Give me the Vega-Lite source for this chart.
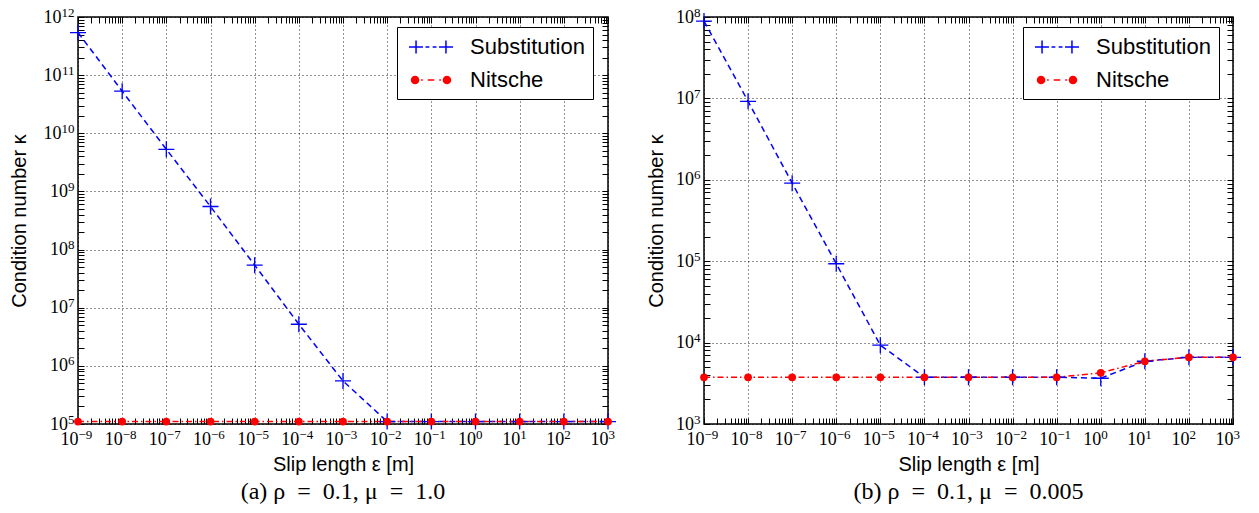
{
  "$schema": "https://vega.github.io/schema/vega-lite/v6.json",
  "background": "white",
  "padding": {"left": 8, "top": 5, "right": 5, "bottom": 0},
  "bounds": "flush",
  "spacing": 96,
  "datasets": {
    "a": [
      {"x": 1e-9, "series": "Substitution", "k": 5.4e11},
      {"x": 1e-8, "series": "Substitution", "k": 5.3e10},
      {"x": 1e-7, "series": "Substitution", "k": 5.3e9},
      {"x": 1e-6, "series": "Substitution", "k": 5.5e8},
      {"x": 1e-5, "series": "Substitution", "k": 5.4e7},
      {"x": 1e-4, "series": "Substitution", "k": 5.2e6},
      {"x": 1e-3, "series": "Substitution", "k": 5.5e5},
      {"x": 1e-2, "series": "Substitution", "k": 1.1e5},
      {"x": 1e-1, "series": "Substitution", "k": 1.1e5},
      {"x": 1e0, "series": "Substitution", "k": 1.1e5},
      {"x": 1e1, "series": "Substitution", "k": 1.1e5},
      {"x": 1e2, "series": "Substitution", "k": 1.1e5},
      {"x": 1e3, "series": "Substitution", "k": 1.1e5},
      {"x": 1e-9, "series": "Nitsche", "k": 1.1e5},
      {"x": 1e-8, "series": "Nitsche", "k": 1.1e5},
      {"x": 1e-7, "series": "Nitsche", "k": 1.1e5},
      {"x": 1e-6, "series": "Nitsche", "k": 1.1e5},
      {"x": 1e-5, "series": "Nitsche", "k": 1.1e5},
      {"x": 1e-4, "series": "Nitsche", "k": 1.1e5},
      {"x": 1e-3, "series": "Nitsche", "k": 1.1e5},
      {"x": 1e-2, "series": "Nitsche", "k": 1.1e5},
      {"x": 1e-1, "series": "Nitsche", "k": 1.1e5},
      {"x": 1e0, "series": "Nitsche", "k": 1.1e5},
      {"x": 1e1, "series": "Nitsche", "k": 1.1e5},
      {"x": 1e2, "series": "Nitsche", "k": 1.1e5},
      {"x": 1e3, "series": "Nitsche", "k": 1.1e5}
    ],
    "b": [
      {"x": 1e-9, "series": "Substitution", "k": 8.9e7},
      {"x": 1e-8, "series": "Substitution", "k": 9.2e6},
      {"x": 1e-7, "series": "Substitution", "k": 9.1e5},
      {"x": 1e-6, "series": "Substitution", "k": 9.3e4},
      {"x": 1e-5, "series": "Substitution", "k": 9.3e3},
      {"x": 1e-4, "series": "Substitution", "k": 3.75e3},
      {"x": 1e-3, "series": "Substitution", "k": 3.75e3},
      {"x": 1e-2, "series": "Substitution", "k": 3.75e3},
      {"x": 1e-1, "series": "Substitution", "k": 3.75e3},
      {"x": 1e0, "series": "Substitution", "k": 3.65e3},
      {"x": 1e1, "series": "Substitution", "k": 5.9e3},
      {"x": 1e2, "series": "Substitution", "k": 6.6e3},
      {"x": 1e3, "series": "Substitution", "k": 6.6e3},
      {"x": 1e-9, "series": "Nitsche", "k": 3.75e3},
      {"x": 1e-8, "series": "Nitsche", "k": 3.75e3},
      {"x": 1e-7, "series": "Nitsche", "k": 3.75e3},
      {"x": 1e-6, "series": "Nitsche", "k": 3.75e3},
      {"x": 1e-5, "series": "Nitsche", "k": 3.75e3},
      {"x": 1e-4, "series": "Nitsche", "k": 3.75e3},
      {"x": 1e-3, "series": "Nitsche", "k": 3.75e3},
      {"x": 1e-2, "series": "Nitsche", "k": 3.75e3},
      {"x": 1e-1, "series": "Nitsche", "k": 3.75e3},
      {"x": 1e0, "series": "Nitsche", "k": 4.25e3},
      {"x": 1e1, "series": "Nitsche", "k": 5.9e3},
      {"x": 1e2, "series": "Nitsche", "k": 6.6e3},
      {"x": 1e3, "series": "Nitsche", "k": 6.6e3}
    ]
  },
  "resolve": {"scale": {"color": "independent"}, "legend": {"color": "independent"}},
  "hconcat": [
    {
      "width": 530,
      "height": 407,
      "data": {"name": "a"},
      "title": {"text": "(a) ρ\u2002=\u20020.1, μ\u2002=\u20021.0", "orient": "bottom", "anchor": "middle", "frame": "group", "font": "Liberation Serif", "fontSize": 24, "fontWeight": "normal", "color": "black", "offset": 6},
      "resolve": {"axis": {"x": "independent", "y": "independent"}},
      "layer": [
        {
          "transform": [{"filter": "datum.series === 'Substitution'"}],
          "mark": {"type": "line", "strokeDash": [6, 4], "strokeWidth": 1.5},
          "encoding": {
            "x": {"field": "x", "type": "quantitative", "scale": {"type": "log", "domain": [1e-9, 1e3], "nice": false},
              "axis": {"orient": "bottom", "title": "Slip length ε [m]", "values": [1e-9,2e-9,3e-9,4e-9,5e-9,6e-9,7e-9,8e-9,9e-9,1e-8,2e-8,3e-8,4e-8,5e-8,6e-8,7e-8,8e-8,9e-8,1e-7,2e-7,3e-7,4e-7,5e-7,6e-7,7e-7,8e-7,9e-7,1e-6,2e-6,3e-6,4e-6,5e-6,6e-6,7e-6,8e-6,9e-6,1e-5,2e-5,3e-5,4e-5,5e-5,6e-5,7e-5,8e-5,9e-5,1e-4,2e-4,3e-4,4e-4,5e-4,6e-4,7e-4,8e-4,9e-4,1e-3,2e-3,3e-3,4e-3,5e-3,6e-3,7e-3,8e-3,9e-3,1e-2,2e-2,3e-2,4e-2,5e-2,6e-2,7e-2,8e-2,9e-2,1e-1,2e-1,3e-1,4e-1,5e-1,6e-1,7e-1,8e-1,9e-1,1,2,3,4,5,6,7,8,9,10,20,30,40,50,60,70,80,90,100,200,300,400,500,600,700,800,900,1000],
                "labelExpr": "abs(log(datum.value)/LN10-round(log(datum.value)/LN10))<0.001 ? '10' : ''",
                "labelAlign": "right", "labelBaseline": "middle", "labelPadding": 21, "labelFontSize": 18, "titlePadding": 6,
                "gridOpacity": {"condition": {"test": "abs(log(datum.value)/LN10-round(log(datum.value)/LN10))<0.001", "value": 0.85}, "value": 0},
                "encode": {"ticks": {"update": {"y2": {"signal": "abs(log(datum.value)/LN10-round(log(datum.value)/LN10))<0.001 ? -6 : -3"}}}}
              }},
            "y": {"field": "k", "type": "quantitative", "scale": {"type": "log", "domain": [1e5, 1e12], "nice": false},
              "axis": {"orient": "left", "title": "Condition number κ", "values": [1e5,2e5,3e5,4e5,5e5,6e5,7e5,8e5,9e5,1e6,2e6,3e6,4e6,5e6,6e6,7e6,8e6,9e6,1e7,2e7,3e7,4e7,5e7,6e7,7e7,8e7,9e7,1e8,2e8,3e8,4e8,5e8,6e8,7e8,8e8,9e8,1e9,2e9,3e9,4e9,5e9,6e9,7e9,8e9,9e9,1e10,2e10,3e10,4e10,5e10,6e10,7e10,8e10,9e10,1e11,2e11,3e11,4e11,5e11,6e11,7e11,8e11,9e11,1e12],
                "labelExpr": "abs(log(datum.value)/LN10-round(log(datum.value)/LN10))<0.001 ? '10' : ''",
                "labelAlign": "right", "labelBaseline": "middle", "labelFontSize": 18, "titlePadding": 14,
                "labelPadding": {"condition": {"test": "round(log(datum.value)/LN10) >= 10", "value": 23}, "value": 16.5},
                "gridOpacity": {"condition": {"test": "abs(log(datum.value)/LN10-round(log(datum.value)/LN10))<0.001", "value": 0.85}, "value": 0},
                "encode": {
                  "ticks": {"update": {"x2": {"signal": "abs(log(datum.value)/LN10-round(log(datum.value)/LN10))<0.001 ? 6 : 3"}}}
                }
              }},
            "color": {"field": "series", "type": "nominal", "scale": {"domain": ["Substitution", "Nitsche"], "range": ["#0000ff", "#ff0000"]},
              "legend": {"orient": "none", "legendX": 319, "legendY": 10, "title": null, "strokeColor": "black", "fillColor": "white", "padding": 8, "cornerRadius": 0, "labelFont": "Liberation Sans", "labelFontSize": 22, "labelColor": "black", "symbolSize": 484, "symbolOffset": 14, "labelOffset": 27, "rowPadding": 10, "symbolStrokeWidth": 1.5,
                "encode": {"symbols": {"update": {
                  "shape": {"signal": "datum.value === 'Substitution' ? 'M-2,0H-0.73M-1.36,-0.6V0.6M-0.5,0H-0.15M0.15,0H0.5M0.73,0H2M1.36,-0.6V0.6' : 'M-1.77,0A0.32,0.32 0 1,1 -1.13,0A0.32,0.32 0 1,1 -1.77,0ZM1.13,0A0.32,0.32 0 1,1 1.77,0A0.32,0.32 0 1,1 1.13,0ZM-0.9,0H-0.75M-0.3,0H0.3M0.75,0H0.9'"},
                  "fill": {"signal": "datum.value === 'Substitution' ? 'transparent' : '#ff0000'"},
                  "stroke": {"signal": "datum.value === 'Substitution' ? '#0000ff' : '#ff0000'"},
                  "strokeDash": {"value": []},
                  "opacity": {"value": 1}
                }}}}}
          }
        },
        {
          "transform": [{"filter": "datum.series === 'Nitsche'"}],
          "mark": {"type": "line", "strokeDash": [6, 3, 1.5, 3], "strokeWidth": 1.5},
          "encoding": {
            "x": {"field": "x", "type": "quantitative", "scale": {"type": "log", "domain": [1e-9, 1e3], "nice": false},
              "axis": {"orient": "top", "title": null, "labels": false, "grid": false, "values": [1e-9,2e-9,3e-9,4e-9,5e-9,6e-9,7e-9,8e-9,9e-9,1e-8,2e-8,3e-8,4e-8,5e-8,6e-8,7e-8,8e-8,9e-8,1e-7,2e-7,3e-7,4e-7,5e-7,6e-7,7e-7,8e-7,9e-7,1e-6,2e-6,3e-6,4e-6,5e-6,6e-6,7e-6,8e-6,9e-6,1e-5,2e-5,3e-5,4e-5,5e-5,6e-5,7e-5,8e-5,9e-5,1e-4,2e-4,3e-4,4e-4,5e-4,6e-4,7e-4,8e-4,9e-4,1e-3,2e-3,3e-3,4e-3,5e-3,6e-3,7e-3,8e-3,9e-3,1e-2,2e-2,3e-2,4e-2,5e-2,6e-2,7e-2,8e-2,9e-2,1e-1,2e-1,3e-1,4e-1,5e-1,6e-1,7e-1,8e-1,9e-1,1,2,3,4,5,6,7,8,9,10,20,30,40,50,60,70,80,90,100,200,300,400,500,600,700,800,900,1000],
                "encode": {"ticks": {"update": {"y2": {"signal": "abs(log(datum.value)/LN10-round(log(datum.value)/LN10))<0.001 ? 6 : 3"}}}}
              }},
            "y": {"field": "k", "type": "quantitative", "scale": {"type": "log", "domain": [1e5, 1e12], "nice": false},
              "axis": {"orient": "right", "title": null, "labels": false, "grid": false, "values": [1e5,2e5,3e5,4e5,5e5,6e5,7e5,8e5,9e5,1e6,2e6,3e6,4e6,5e6,6e6,7e6,8e6,9e6,1e7,2e7,3e7,4e7,5e7,6e7,7e7,8e7,9e7,1e8,2e8,3e8,4e8,5e8,6e8,7e8,8e8,9e8,1e9,2e9,3e9,4e9,5e9,6e9,7e9,8e9,9e9,1e10,2e10,3e10,4e10,5e10,6e10,7e10,8e10,9e10,1e11,2e11,3e11,4e11,5e11,6e11,7e11,8e11,9e11,1e12],
                "encode": {"ticks": {"update": {"x2": {"signal": "abs(log(datum.value)/LN10-round(log(datum.value)/LN10))<0.001 ? -6 : -3"}}}}
              }},
            "color": {"field": "series", "type": "nominal", "scale": {"domain": ["Substitution", "Nitsche"], "range": ["#0000ff", "#ff0000"]}}
          }
        },
        {
          "transform": [{"filter": "datum.series === 'Substitution'"}],
          "mark": {"type": "point", "shape": "M-1,0H1M0,-1V1", "filled": false, "size": 256, "color": "#0000ff", "strokeWidth": 1.3, "opacity": 1},
          "encoding": {
            "x": {"field": "x", "type": "quantitative",
              "axis": {"orient": "bottom", "title": null, "grid": false, "tickOpacity": 0, "values": [1e-9,1e-8,1e-7,1e-6,1e-5,1e-4,1e-3,1e-2,1e-1,1,10,100,1000],
                "labelExpr": "(round(log(datum.value)/LN10) < 0 ? '−' : '') + abs(round(log(datum.value)/LN10))",
                "labelAlign": "left", "labelBaseline": "middle", "labelPadding": 16, "labelFontSize": 13}},
            "y": {"field": "k", "type": "quantitative",
              "axis": {"orient": "left", "title": null, "grid": false, "tickOpacity": 0, "values": [1e5,1e6,1e7,1e8,1e9,1e10,1e11,1e12],
                "labelExpr": "(round(log(datum.value)/LN10) < 0 ? '−' : '') + abs(round(log(datum.value)/LN10))",
                "labelAlign": "right", "labelBaseline": "middle", "labelPadding": 10, "labelOffset": -5, "labelFontSize": 13}}
          }
        },
        {
          "transform": [{"filter": "datum.series === 'Nitsche'"}],
          "mark": {"type": "point", "shape": "circle", "filled": true, "size": 60, "color": "#ff0000", "opacity": 1},
          "encoding": {
            "x": {"field": "x", "type": "quantitative", "axis": null},
            "y": {"field": "k", "type": "quantitative", "axis": null}
          }
        }
      ]
    },
    {
      "width": 529,
      "height": 407,
      "data": {"name": "b"},
      "title": {"text": "(b) ρ\u2002=\u20020.1, μ\u2002=\u20020.005", "orient": "bottom", "anchor": "middle", "frame": "group", "font": "Liberation Serif", "fontSize": 24, "fontWeight": "normal", "color": "black", "offset": 6},
      "resolve": {"axis": {"x": "independent", "y": "independent"}},
      "layer": [
        {
          "transform": [{"filter": "datum.series === 'Substitution'"}],
          "mark": {"type": "line", "strokeDash": [6, 4], "strokeWidth": 1.5},
          "encoding": {
            "x": {"field": "x", "type": "quantitative", "scale": {"type": "log", "domain": [1e-9, 1e3], "nice": false},
              "axis": {"orient": "bottom", "title": "Slip length ε [m]", "values": [1e-9,2e-9,3e-9,4e-9,5e-9,6e-9,7e-9,8e-9,9e-9,1e-8,2e-8,3e-8,4e-8,5e-8,6e-8,7e-8,8e-8,9e-8,1e-7,2e-7,3e-7,4e-7,5e-7,6e-7,7e-7,8e-7,9e-7,1e-6,2e-6,3e-6,4e-6,5e-6,6e-6,7e-6,8e-6,9e-6,1e-5,2e-5,3e-5,4e-5,5e-5,6e-5,7e-5,8e-5,9e-5,1e-4,2e-4,3e-4,4e-4,5e-4,6e-4,7e-4,8e-4,9e-4,1e-3,2e-3,3e-3,4e-3,5e-3,6e-3,7e-3,8e-3,9e-3,1e-2,2e-2,3e-2,4e-2,5e-2,6e-2,7e-2,8e-2,9e-2,1e-1,2e-1,3e-1,4e-1,5e-1,6e-1,7e-1,8e-1,9e-1,1,2,3,4,5,6,7,8,9,10,20,30,40,50,60,70,80,90,100,200,300,400,500,600,700,800,900,1000],
                "labelExpr": "abs(log(datum.value)/LN10-round(log(datum.value)/LN10))<0.001 ? '10' : ''",
                "labelAlign": "right", "labelBaseline": "middle", "labelPadding": 21, "labelFontSize": 18, "titlePadding": 6,
                "gridOpacity": {"condition": {"test": "abs(log(datum.value)/LN10-round(log(datum.value)/LN10))<0.001", "value": 0.85}, "value": 0},
                "encode": {"ticks": {"update": {"y2": {"signal": "abs(log(datum.value)/LN10-round(log(datum.value)/LN10))<0.001 ? -6 : -3"}}}}
              }},
            "y": {"field": "k", "type": "quantitative", "scale": {"type": "log", "domain": [1e3, 1e8], "nice": false},
              "axis": {"orient": "left", "title": "Condition number κ", "values": [1e3,2e3,3e3,4e3,5e3,6e3,7e3,8e3,9e3,1e4,2e4,3e4,4e4,5e4,6e4,7e4,8e4,9e4,1e5,2e5,3e5,4e5,5e5,6e5,7e5,8e5,9e5,1e6,2e6,3e6,4e6,5e6,6e6,7e6,8e6,9e6,1e7,2e7,3e7,4e7,5e7,6e7,7e7,8e7,9e7,1e8],
                "labelExpr": "abs(log(datum.value)/LN10-round(log(datum.value)/LN10))<0.001 ? '10' : ''",
                "labelAlign": "right", "labelBaseline": "middle", "labelPadding": 16.5, "labelFontSize": 18, "titlePadding": 9,
                "gridOpacity": {"condition": {"test": "abs(log(datum.value)/LN10-round(log(datum.value)/LN10))<0.001", "value": 0.85}, "value": 0},
                "encode": {
                  "ticks": {"update": {"x2": {"signal": "abs(log(datum.value)/LN10-round(log(datum.value)/LN10))<0.001 ? 6 : 3"}}}
                }
              }},
            "color": {"field": "series", "type": "nominal", "scale": {"domain": ["Substitution", "Nitsche"], "range": ["#0000ff", "#ff0000"]},
              "legend": {"orient": "none", "legendX": 319, "legendY": 10, "title": null, "strokeColor": "black", "fillColor": "white", "padding": 8, "cornerRadius": 0, "labelFont": "Liberation Sans", "labelFontSize": 22, "labelColor": "black", "symbolSize": 484, "symbolOffset": 14, "labelOffset": 27, "rowPadding": 10, "symbolStrokeWidth": 1.5,
                "encode": {"symbols": {"update": {
                  "shape": {"signal": "datum.value === 'Substitution' ? 'M-2,0H-0.73M-1.36,-0.6V0.6M-0.5,0H-0.15M0.15,0H0.5M0.73,0H2M1.36,-0.6V0.6' : 'M-1.77,0A0.32,0.32 0 1,1 -1.13,0A0.32,0.32 0 1,1 -1.77,0ZM1.13,0A0.32,0.32 0 1,1 1.77,0A0.32,0.32 0 1,1 1.13,0ZM-0.9,0H-0.75M-0.3,0H0.3M0.75,0H0.9'"},
                  "fill": {"signal": "datum.value === 'Substitution' ? 'transparent' : '#ff0000'"},
                  "stroke": {"signal": "datum.value === 'Substitution' ? '#0000ff' : '#ff0000'"},
                  "strokeDash": {"value": []},
                  "opacity": {"value": 1}
                }}}}}
          }
        },
        {
          "transform": [{"filter": "datum.series === 'Nitsche'"}],
          "mark": {"type": "line", "strokeDash": [6, 3, 1.5, 3], "strokeWidth": 1.5},
          "encoding": {
            "x": {"field": "x", "type": "quantitative", "scale": {"type": "log", "domain": [1e-9, 1e3], "nice": false},
              "axis": {"orient": "top", "title": null, "labels": false, "grid": false, "values": [1e-9,2e-9,3e-9,4e-9,5e-9,6e-9,7e-9,8e-9,9e-9,1e-8,2e-8,3e-8,4e-8,5e-8,6e-8,7e-8,8e-8,9e-8,1e-7,2e-7,3e-7,4e-7,5e-7,6e-7,7e-7,8e-7,9e-7,1e-6,2e-6,3e-6,4e-6,5e-6,6e-6,7e-6,8e-6,9e-6,1e-5,2e-5,3e-5,4e-5,5e-5,6e-5,7e-5,8e-5,9e-5,1e-4,2e-4,3e-4,4e-4,5e-4,6e-4,7e-4,8e-4,9e-4,1e-3,2e-3,3e-3,4e-3,5e-3,6e-3,7e-3,8e-3,9e-3,1e-2,2e-2,3e-2,4e-2,5e-2,6e-2,7e-2,8e-2,9e-2,1e-1,2e-1,3e-1,4e-1,5e-1,6e-1,7e-1,8e-1,9e-1,1,2,3,4,5,6,7,8,9,10,20,30,40,50,60,70,80,90,100,200,300,400,500,600,700,800,900,1000],
                "encode": {"ticks": {"update": {"y2": {"signal": "abs(log(datum.value)/LN10-round(log(datum.value)/LN10))<0.001 ? 6 : 3"}}}}
              }},
            "y": {"field": "k", "type": "quantitative", "scale": {"type": "log", "domain": [1e3, 1e8], "nice": false},
              "axis": {"orient": "right", "title": null, "labels": false, "grid": false, "values": [1e3,2e3,3e3,4e3,5e3,6e3,7e3,8e3,9e3,1e4,2e4,3e4,4e4,5e4,6e4,7e4,8e4,9e4,1e5,2e5,3e5,4e5,5e5,6e5,7e5,8e5,9e5,1e6,2e6,3e6,4e6,5e6,6e6,7e6,8e6,9e6,1e7,2e7,3e7,4e7,5e7,6e7,7e7,8e7,9e7,1e8],
                "encode": {"ticks": {"update": {"x2": {"signal": "abs(log(datum.value)/LN10-round(log(datum.value)/LN10))<0.001 ? -6 : -3"}}}}
              }},
            "color": {"field": "series", "type": "nominal", "scale": {"domain": ["Substitution", "Nitsche"], "range": ["#0000ff", "#ff0000"]}}
          }
        },
        {
          "transform": [{"filter": "datum.series === 'Substitution'"}],
          "mark": {"type": "point", "shape": "M-1,0H1M0,-1V1", "filled": false, "size": 256, "color": "#0000ff", "strokeWidth": 1.3, "opacity": 1},
          "encoding": {
            "x": {"field": "x", "type": "quantitative",
              "axis": {"orient": "bottom", "title": null, "grid": false, "tickOpacity": 0, "values": [1e-9,1e-8,1e-7,1e-6,1e-5,1e-4,1e-3,1e-2,1e-1,1,10,100,1000],
                "labelExpr": "(round(log(datum.value)/LN10) < 0 ? '−' : '') + abs(round(log(datum.value)/LN10))",
                "labelAlign": "left", "labelBaseline": "middle", "labelPadding": 16, "labelFontSize": 13}},
            "y": {"field": "k", "type": "quantitative",
              "axis": {"orient": "left", "title": null, "grid": false, "tickOpacity": 0, "values": [1e3,1e4,1e5,1e6,1e7,1e8],
                "labelExpr": "(round(log(datum.value)/LN10) < 0 ? '−' : '') + abs(round(log(datum.value)/LN10))",
                "labelAlign": "right", "labelBaseline": "middle", "labelPadding": 10, "labelOffset": -5, "labelFontSize": 13}}
          }
        },
        {
          "transform": [{"filter": "datum.series === 'Nitsche'"}],
          "mark": {"type": "point", "shape": "circle", "filled": true, "size": 60, "color": "#ff0000", "opacity": 1},
          "encoding": {
            "x": {"field": "x", "type": "quantitative", "axis": null},
            "y": {"field": "k", "type": "quantitative", "axis": null}
          }
        }
      ]
    }
  ],
  "config": {
    "view": {"stroke": "black", "strokeWidth": 1.5},
    "axis": {
      "domain": false,
      "tickColor": "black",
      "tickSize": -6,
      "tickWidth": 1,
      "labelColor": "black",
      "labelFont": "Liberation Serif",
      "labelFontSize": 18,
      "labelFlush": false,
      "labelOverlap": false,
      "titleColor": "black",
      "titleFont": "Liberation Sans",
      "titleFontSize": 20,
      "titleFontWeight": "normal",
      "gridColor": "black",
      "gridDash": [1, 3],
      "gridWidth": 1
    }
  }
}
